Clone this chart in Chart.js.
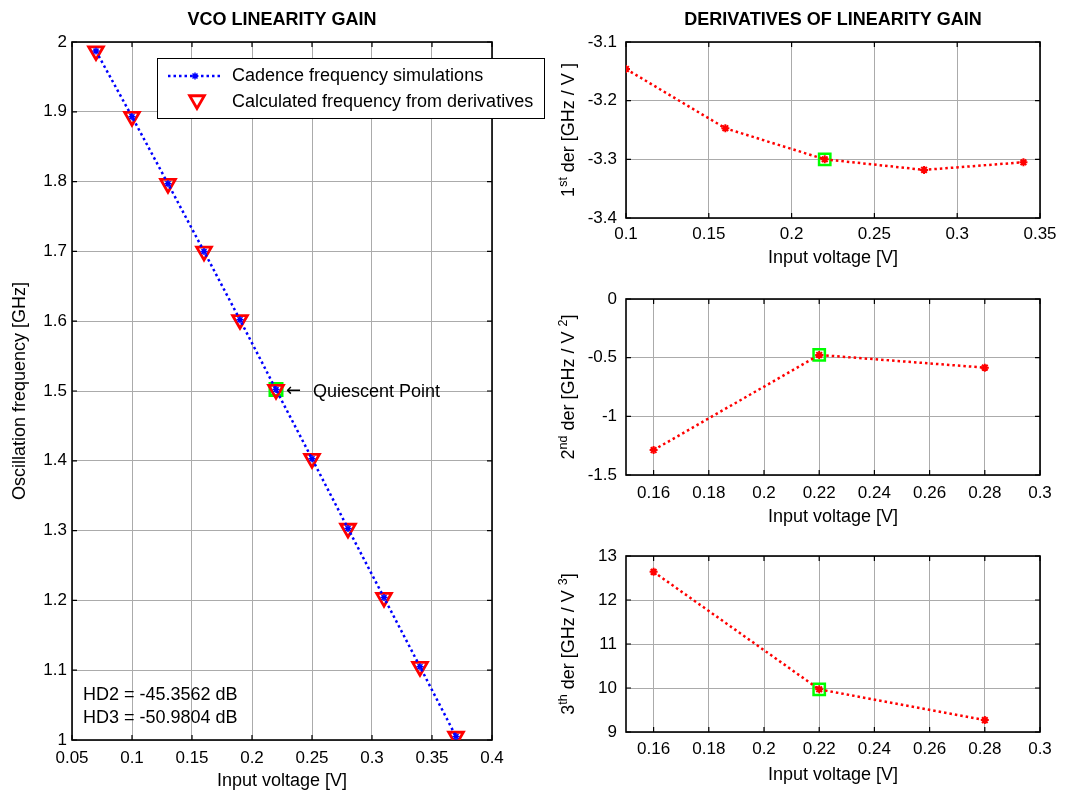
<!DOCTYPE html>
<html>
<head>
<meta charset="utf-8">
<title>VCO linearity gain</title>
<script src="https://cdn.jsdelivr.net/npm/chart.js@4.4.1/dist/chart.umd.min.js"></script>
<style>
  body { margin: 0; background: #fff; }
  #fig { position: relative; width: 1069px; height: 791px; overflow: hidden; }
  #fig canvas { position: absolute; }
</style>
</head>
<body>
<div id="fig">
  <canvas id="gain" width="560" height="791" style="left:0;top:0"></canvas>
  <canvas id="der1" width="529" height="270" style="left:540px;top:0"></canvas>
  <canvas id="der2" width="529" height="250" style="left:540px;top:280px"></canvas>
  <canvas id="der3" width="529" height="261" style="left:540px;top:530px"></canvas>
</div>
<script>
// ---- data ----
var inputVoltage = [0.07, 0.10, 0.13, 0.16, 0.19, 0.22, 0.25, 0.28, 0.31, 0.34, 0.37];
var simFreq  = [1.987, 1.893, 1.797, 1.700, 1.602, 1.502, 1.403, 1.303, 1.204, 1.105, 1.005];
var calcFreq = [1.987, 1.893, 1.797, 1.700, 1.602, 1.502, 1.403, 1.303, 1.204, 1.105, 1.005];
var qVoltage = 0.22;
var qFreq = 1.502;
var hdNotes = ['HD2 = -45.3562 dB', 'HD3 = -50.9804 dB'];

var der1Voltage = [0.10, 0.16, 0.22, 0.28, 0.34];
var der1 = [-3.146, -3.247, -3.300, -3.318, -3.305];
var der2Voltage = [0.16, 0.22, 0.28];
var der2 = [-1.287, -0.477, -0.585];
var der3Voltage = [0.16, 0.22, 0.28];
var der3 = [12.64, 9.97, 9.27];
var qDer1 = -3.300, qDer2 = -0.477, qDer3 = 9.97;

// tick labels
var gainXTicks = [0.05, 0.1, 0.15, 0.2, 0.25, 0.3, 0.35, 0.4];
var gainYTicks = [1, 1.1, 1.2, 1.3, 1.4, 1.5, 1.6, 1.7, 1.8, 1.9, 2];
var der1XTicks = [0.1, 0.15, 0.2, 0.25, 0.3, 0.35];
var der1YTicks = [-3.4, -3.3, -3.2, -3.1];
var derXTicks  = [0.16, 0.18, 0.2, 0.22, 0.24, 0.26, 0.28, 0.3];
var der2YTicks = [-1.5, -1, -0.5, 0];
var der3YTicks = [9, 10, 11, 12, 13];
var derXMin = 0.15;

var FONT = "'Liberation Sans', Arial, sans-serif";
Chart.defaults.font.family = FONT;
Chart.defaults.color = '#000';

function pts(xs, ys) {
  return xs.map(function (x, i) { return { x: x, y: ys[i] }; });
}

function tickText(v) {
  var r = Math.round(v * 10000) / 10000;
  return r === 0 ? '0' : String(r);
}

function fixedTicks(list) {
  return function (axis) {
    axis.ticks = list.map(function (v) { return { value: v }; });
  };
}

function fixedSize(prop, size) {
  return function (axis) {
    axis[prop] = size;
    axis.paddingLeft = axis.paddingRight = axis.paddingTop = axis.paddingBottom = 0;
  };
}

// matlab style box with inward ticks on all four sides
var boxAxes = {
  id: 'boxAxes',
  beforeDatasetsDraw: function (chart) {
    var a = chart.chartArea, ctx = chart.ctx, xs = chart.scales.x, ys = chart.scales.y, t = 5;
    ctx.save();
    ctx.strokeStyle = '#000';
    ctx.lineWidth = 1.2;
    ctx.beginPath();
    xs.ticks.forEach(function (tk) {
      var p = xs.getPixelForValue(tk.value);
      ctx.moveTo(p, a.top); ctx.lineTo(p, a.top + t);
      ctx.moveTo(p, a.bottom); ctx.lineTo(p, a.bottom - t);
    });
    ys.ticks.forEach(function (tk) {
      var p = ys.getPixelForValue(tk.value);
      ctx.moveTo(a.left, p); ctx.lineTo(a.left + t, p);
      ctx.moveTo(a.right, p); ctx.lineTo(a.right - t, p);
    });
    ctx.stroke();
    ctx.lineWidth = 1.6;
    ctx.strokeRect(a.left, a.top, a.right - a.left, a.bottom - a.top);
    ctx.restore();
  }
};

// titles and y labels with ^{sup} parts
var axesText = {
  id: 'axesText',
  afterDraw: function (chart, args, opts) {
    var ctx = chart.ctx, a = chart.chartArea;
    ctx.save();
    ctx.fillStyle = '#000';
    if (opts.title) {
      ctx.font = 'bold 18px ' + FONT;
      ctx.textAlign = 'center';
      ctx.textBaseline = 'middle';
      ctx.fillText(opts.title, (a.left + a.right) / 2, opts.titleY);
    }
    if (opts.yLabel) {
      var parts = opts.yLabel.split(/\^\{([^}]*)\}/);
      var fontOf = function (i) { return (i % 2 ? '12.5px ' : '18px ') + FONT; };
      var total = 0;
      parts.forEach(function (p, i) { ctx.font = fontOf(i); total += ctx.measureText(p).width; });
      ctx.translate(opts.yLabelX, (a.top + a.bottom) / 2);
      ctx.rotate(-Math.PI / 2);
      ctx.textAlign = 'left';
      ctx.textBaseline = 'alphabetic';
      var cx = -total / 2;
      parts.forEach(function (p, i) {
        ctx.font = fontOf(i);
        ctx.fillText(p, cx, i % 2 ? -7 : 0);
        cx += ctx.measureText(p).width;
      });
    }
    ctx.restore();
  }
};

function drawStar(ctx, x, y, r) {
  ctx.beginPath();
  for (var k = 0; k < 4; k++) {
    var ang = k * Math.PI / 4;
    ctx.moveTo(x - Math.cos(ang) * r, y - Math.sin(ang) * r);
    ctx.lineTo(x + Math.cos(ang) * r, y + Math.sin(ang) * r);
  }
  ctx.stroke();
}

function drawDownTriangle(ctx, x, y, r) {
  var rad = Math.PI;
  ctx.beginPath();
  for (var k = 0; k < 3; k++) {
    var px = x + Math.sin(rad) * r, py = y - Math.cos(rad) * r;
    if (k === 0) ctx.moveTo(px, py); else ctx.lineTo(px, py);
    rad += 2 * Math.PI / 3;
  }
  ctx.closePath();
  ctx.stroke();
}

// legend + annotations of the left axes
var gainNotes = {
  id: 'gainNotes',
  afterDraw: function (chart) {
    var ctx = chart.ctx, a = chart.chartArea, ds = chart.data.datasets;
    var xs = chart.scales.x, ys = chart.scales.y;
    var qx = xs.getPixelForValue(qVoltage), qy = ys.getPixelForValue(qFreq) + 2;
    ctx.save();
    ctx.fillStyle = '#000';
    ctx.textAlign = 'left';
    ctx.textBaseline = 'middle';
    ctx.font = "18px 'DejaVu Sans', sans-serif";
    ctx.fillText('\u2190', qx + 10, qy);
    ctx.font = '18px ' + FONT;
    ctx.fillText('Quiescent Point', qx + 37, qy);
    ctx.fillText(hdNotes[0], a.left + 11, a.bottom - 45);
    ctx.fillText(hdNotes[1], a.left + 11, a.bottom - 22);

    var bx = a.left + 85, by = a.top + 16, bw = 387, bh = 60;
    ctx.fillStyle = '#fff';
    ctx.fillRect(bx, by, bw, bh);
    ctx.strokeStyle = '#000';
    ctx.lineWidth = 1;
    ctx.strokeRect(bx + 0.5, by + 0.5, bw, bh);

    var r1 = by + 18, r2 = by + 44;
    ctx.strokeStyle = ds[0].borderColor;
    ctx.lineWidth = ds[0].borderWidth;
    ctx.setLineDash(ds[0].borderDash);
    ctx.beginPath();
    ctx.moveTo(bx + 11, r1);
    ctx.lineTo(bx + 66, r1);
    ctx.stroke();
    ctx.setLineDash([]);
    ctx.lineWidth = ds[0].pointBorderWidth;
    drawStar(ctx, bx + 38, r1, ds[0].pointRadius);

    ctx.strokeStyle = ds[1].pointBorderColor;
    ctx.lineWidth = ds[1].pointBorderWidth;
    drawDownTriangle(ctx, bx + 40, r2 - 2, ds[1].pointRadius);

    ctx.fillStyle = '#000';
    ctx.fillText(ds[0].label, bx + 75, r1);
    ctx.fillText(ds[1].label, bx + 75, r2);
    ctx.restore();
  }
};

function scaleOpts(o) {
  return {
    type: 'linear',
    position: o.position,
    min: o.min,
    max: o.max,
    afterBuildTicks: fixedTicks(o.ticks),
    afterFit: fixedSize(o.position === 'bottom' ? 'height' : 'width', o.size),
    ticks: {
      callback: tickText,
      font: { size: 17, lineHeight: 1.2 },
      padding: o.pad,
      autoSkip: false,
      maxRotation: 0
    },
    grid: { color: '#ababab', lineWidth: 1, drawTicks: false },
    border: { display: false },
    title: o.title ? {
      display: true,
      text: o.title,
      font: { size: 18, lineHeight: 1.1 },
      padding: o.titlePad
    } : { display: false }
  };
}

new Chart(document.getElementById('gain'), {
  type: 'scatter',
  data: {
    datasets: [{
      label: 'Cadence frequency simulations',
      data: pts(inputVoltage, simFreq),
      showLine: true,
      borderColor: '#0000ff',
      borderWidth: 2.5,
      borderDash: [2.5, 3],
      pointStyle: 'star',
      pointRadius: 3.5,
      pointBorderWidth: 1.5,
      pointBorderColor: '#0000ff',
      pointBackgroundColor: '#0000ff'
    }, {
      label: 'Calculated frequency from derivatives',
      data: pts(inputVoltage, calcFreq),
      showLine: false,
      pointStyle: 'triangle',
      rotation: 180,
      pointRadius: 8.5,
      pointBorderWidth: 2.8,
      pointBorderColor: '#ff0000',
      pointBackgroundColor: 'rgba(0,0,0,0)'
    }, {
      label: 'Quiescent point',
      data: [{ x: qVoltage, y: qFreq }],
      showLine: false,
      pointStyle: 'rect',
      pointRadius: 8.5,
      pointBorderWidth: 3,
      pointBorderColor: '#00ff00',
      pointBackgroundColor: 'rgba(0,0,0,0)'
    }]
  },
  options: {
    responsive: false,
    animation: false,
    events: [],
    layout: { padding: { left: 0, top: 42, right: 68, bottom: 0 } },
    scales: {
      x: scaleOpts({ position: 'bottom', min: 0.05, max: 0.4, ticks: gainXTicks, size: 51, pad: 8,
        title: 'Input voltage [V]', titlePad: 0 }),
      y: scaleOpts({ position: 'left', min: 1, max: 2, ticks: gainYTicks, size: 72, pad: 5,
        title: 'Oscillation frequency [GHz]', titlePad: { top: 10, bottom: 0 } })
    },
    plugins: {
      legend: { display: false },
      tooltip: { enabled: false },
      axesText: { title: 'VCO LINEARITY GAIN', titleY: 20 }
    }
  },
  plugins: [boxAxes, axesText, gainNotes]
});

function derChart(id, xv, yv, qy, o) {
  return new Chart(document.getElementById(id), {
    type: 'scatter',
    data: {
      datasets: [{
        label: o.name,
        data: pts(xv, yv),
        showLine: true,
        borderColor: '#ff0000',
        borderWidth: 2.5,
        borderDash: [2.5, 3],
        pointStyle: 'star',
        pointRadius: 4,
        pointBorderWidth: 2,
        pointBorderColor: '#ff0000',
        pointBackgroundColor: '#ff0000'
      }, {
        label: 'Quiescent point',
        data: [{ x: qVoltage, y: qy }],
        showLine: false,
        pointStyle: 'rect',
        pointRadius: 8,
        pointBorderWidth: 2.5,
        pointBorderColor: '#00ff00',
        pointBackgroundColor: 'rgba(0,0,0,0)'
      }]
    },
    options: {
      responsive: false,
      animation: false,
      events: [],
      layout: { padding: { left: 0, top: o.top, right: 29, bottom: 0 } },
      scales: {
        x: scaleOpts({ position: 'bottom', min: o.xMin, max: o.xMax, ticks: o.xTicks, size: o.xSize,
          pad: o.xPad, title: 'Input voltage [V]', titlePad: o.titlePad }),
        y: scaleOpts({ position: 'left', min: o.yTicks[0], max: o.yTicks[o.yTicks.length - 1],
          ticks: o.yTicks, size: 86, pad: 9 })
      },
      plugins: {
        legend: { display: false },
        tooltip: { enabled: false },
        axesText: { title: o.title, titleY: 20, yLabel: o.yLabel, yLabelX: 34 }
      }
    },
    plugins: [boxAxes, axesText]
  });
}

derChart('der1', der1Voltage, der1, qDer1, {
  name: '1st derivative', title: 'DERIVATIVES OF LINEARITY GAIN',
  yLabel: '1^{st} der [GHz / V ]',
  xMin: 0.1, xMax: 0.35, xTicks: der1XTicks, yTicks: der1YTicks,
  top: 42, xSize: 52, xPad: 6, titlePad: 2
});
derChart('der2', der2Voltage, der2, qDer2, {
  name: '2nd derivative', title: '',
  yLabel: '2^{nd} der [GHz / V ^{2}]',
  xMin: derXMin, xMax: 0.3, xTicks: derXTicks, yTicks: der2YTicks,
  top: 19, xSize: 55, xPad: 8, titlePad: 3
});
derChart('der3', der3Voltage, der3, qDer3, {
  name: '3rd derivative', title: '',
  yLabel: '3^{th} der [GHz / V ^{3}]',
  xMin: derXMin, xMax: 0.3, xTicks: derXTicks, yTicks: der3YTicks,
  top: 26, xSize: 59, xPad: 7, titlePad: 6
});
</script>
</body>
</html>
